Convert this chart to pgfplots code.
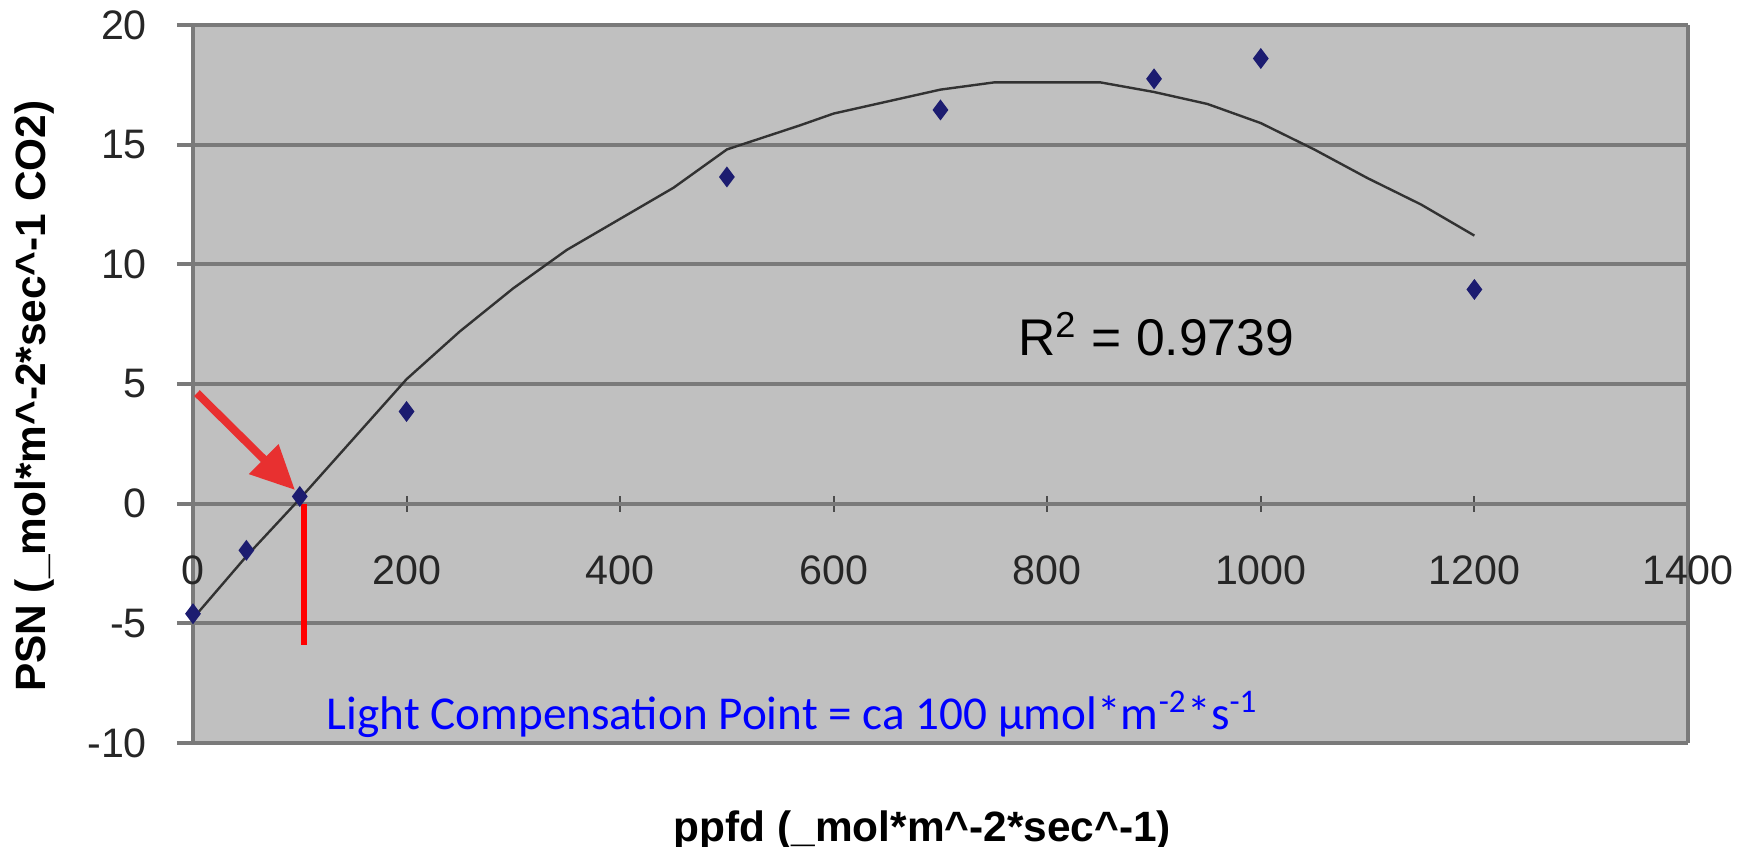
\documentclass[border=0pt]{standalone}
\usepackage{pgfplots}
\pgfplotsset{compat=1.18}
\usepackage{fontspec}
\setmainfont{Liberation Sans}
\newfontfamily\calibri{Carlito}
\usetikzlibrary{arrows.meta}

\definecolor{bg}{RGB}{192,192,192}
\definecolor{gridc}{RGB}{122,122,122}
\definecolor{navy}{RGB}{28,28,112}
\definecolor{arrowred}{RGB}{232,48,48}
\definecolor{curvec}{RGB}{50,50,50}

\begin{document}
\begin{tikzpicture}
\begin{axis}[
  scale only axis, width=373.75pt, height=179.5pt,
  xmin=0, xmax=1400, ymin=-10, ymax=20,
  axis x line=middle, axis y line=box,
  hide obscured x ticks=false,
  x axis line style={-, draw=gridc, line width=1pt},
  y axis line style={draw=gridc, line width=1pt},
  axis background/.style={fill=bg},
  xtick={0,200,...,1400}, ytick={-10,-5,...,20},
  ytick pos=left, ytick align=outside,
  xtick align=center,
  major tick length=4pt,
  ytick style={draw=gridc, line width=1pt},
  xtick style={draw=black!70, line width=0.5pt},
  ymajorgrids, major grid style={draw=gridc, line width=1pt},
  /pgf/number format/assume math mode=true,
  /pgf/number format/1000 sep={},
  tick label style={font=\fontsize{10.3}{12}\selectfont, text=black!85},
  yticklabel shift=4pt,
  xticklabel shift=7.5pt,
  clip=false,
]
\addplot[no marks, line width=0.6pt, curvec] coordinates {
(0,-4.8)(50,-2.2)(100,0.2)(150,2.7)(200,5.2)(250,7.2)(300,9.0)(350,10.6)
(400,11.9)(450,13.2)(500,14.8)(568,15.8)(600,16.3)(650,16.8)(700,17.3)
(750,17.6)(800,17.6)(850,17.6)(900,17.2)(950,16.7)(1000,15.9)(1050,14.8)
(1100,13.6)(1150,12.5)(1200,11.2)};
\addplot[only marks, mark=diamond*, mark size=2.3pt, navy] coordinates {
(0,-4.6)(50,-1.95)(100,0.3)(200,3.85)(500,13.65)(700,16.45)(900,17.75)(1000,18.6)(1200,8.95)};

\draw[red, line width=1.5pt] (axis cs:104,0) -- (axis cs:104,-5.9);
\draw[arrowred, line width=2pt, -{Triangle[length=11pt,width=10pt]}] (axis cs:3.7,4.62) -- (axis cs:95.5,0.57);

\node[anchor=base west, inner sep=0, font=\fontsize{12.9}{15}\selectfont] at (axis cs:772,6.2) {R\textsuperscript{2} = 0.9739};
\node[anchor=base west, inner sep=0, text=blue, font=\calibri\fontsize{11.8}{14}\selectfont] at (rel axis cs:0.089,0.0181) {Light Compensation Point = ca 100 µmol*m\textsuperscript{-2}*s\textsuperscript{-1}};
\node[rotate=90, font=\bfseries\fontsize{10.6}{13}\selectfont] at (rel axis cs:-0.1057,0.483) {PSN (\_mol*m\textasciicircum-2*sec\textasciicircum-1 CO2)};
\node[font=\bfseries\fontsize{10.6}{13}\selectfont] at (rel axis cs:0.488,-0.1226) {ppfd (\_mol*m\textasciicircum-2*sec\textasciicircum-1)};

\coordinate (bbl) at (rel axis cs:-0.1291,-0.1448);
\coordinate (btr) at (rel axis cs:1.0415,1.0348);
\end{axis}
\pgfresetboundingbox
\useasboundingbox (bbl) rectangle (btr);
\end{tikzpicture}
\end{document}
